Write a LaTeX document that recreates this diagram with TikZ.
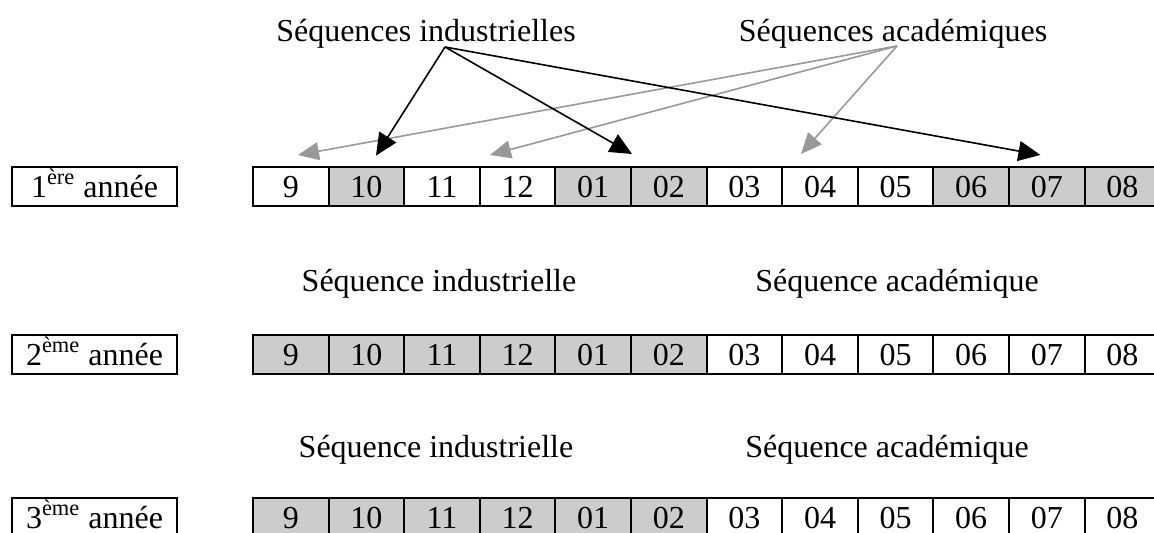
\documentclass[tikz,border=0pt]{standalone}
\usepackage{fontspec}
\setmainfont{Liberation Serif}
\usepackage{xcolor}
\definecolor{cellgray}{rgb}{0.8, 0.8, 0.8}
\definecolor{arrowgray}{rgb}{0.6, 0.6, 0.6}
\usepackage{tikz}
\usetikzlibrary{arrows.meta,positioning}
\tikzset{
  yearbox/.style={rectangle,draw,line width=1pt,minimum width=82.5pt,minimum height=19.5pt,inner sep=0pt,text height=10.8pt,text depth=0pt},
  month/.style={yearbox,minimum width=37.8pt},
  ind/.style={month,fill=cellgray},
  seqtitle/.style={anchor=base},
  indarrow/.style={-{Triangle[length=11pt,width=10pt]},line width=0.8pt,draw=black},
  acaarrow/.style={-{Triangle[length=10.5pt,width=9pt]},line width=0.8pt,draw=arrowgray}
}

\begin{document}
\begin{tikzpicture}[x=0.5pt,y=-0.5pt,node distance=37.8pt,font=\fontsize{16pt}{19pt}\selectfont]
  \useasboundingbox (0,0) rectangle (1154,533);

  % Year labels
  \node[yearbox] (ya) at (94.5,186.5) {1\textsuperscript{ère} année};
  \node[yearbox] (yb) at (94.5,354.5) {2\textsuperscript{ème} année};
  \node[yearbox] (yc) at (94.5,517.5) {3\textsuperscript{ème} année};

  % 1st year months
  \node[month] (a1) at (290.8,186.5) {9};
  \node[ind,right of=a1] (a2) {10};
  \node[month,right of=a2] (a3) {11};
  \node[month,right of=a3] (a4) {12};
  \node[ind,right of=a4] (a5) {01};
  \node[ind,right of=a5] (a6) {02};
  \node[month,right of=a6] (a7) {03};
  \node[month,right of=a7] (a8) {04};
  \node[month,right of=a8] (a9) {05};
  \node[ind,right of=a9] (a10) {06};
  \node[ind,right of=a10] (a11) {07};
  \node[ind,right of=a11] (a12) {08};

  % 2nd year months
  \node[ind] (b1) at (290.8,354.5) {9};
  \node[ind,right of=b1] (b2) {10};
  \node[ind,right of=b2] (b3) {11};
  \node[ind,right of=b3] (b4) {12};
  \node[ind,right of=b4] (b5) {01};
  \node[ind,right of=b5] (b6) {02};
  \node[month,right of=b6] (b7) {03};
  \node[month,right of=b7] (b8) {04};
  \node[month,right of=b8] (b9) {05};
  \node[month,right of=b9] (b10) {06};
  \node[month,right of=b10] (b11) {07};
  \node[month,right of=b11] (b12) {08};

  % 3rd year months
  \node[ind] (c1) at (290.8,517.5) {9};
  \node[ind,right of=c1] (c2) {10};
  \node[ind,right of=c2] (c3) {11};
  \node[ind,right of=c3] (c4) {12};
  \node[ind,right of=c4] (c5) {01};
  \node[ind,right of=c5] (c6) {02};
  \node[month,right of=c6] (c7) {03};
  \node[month,right of=c7] (c8) {04};
  \node[month,right of=c8] (c9) {05};
  \node[month,right of=c9] (c10) {06};
  \node[month,right of=c10] (c11) {07};
  \node[month,right of=c11] (c12) {08};

  % Sequence titles
  \node[seqtitle] (ti1) at (426,42) {Séquences industrielles};
  \node[seqtitle] (ta1) at (893,42) {Séquences académiques};
  \node[seqtitle] (ti2) at (439,292) {Séquence industrielle};
  \node[seqtitle] (ta2) at (897,292) {Séquence académique};
  \node[seqtitle] (ti3) at (436,457) {Séquence industrielle};
  \node[seqtitle] (ta3) at (887,457) {Séquence académique};

  % Arrow sources
  \coordinate (si) at ([xshift=9.5pt,yshift=-2.5pt]ti1.base);
  \coordinate (sa) at ([xshift=2pt,yshift=-2pt]ta1.base);

  % Academic arrows
  \draw[acaarrow] (sa) -- ([xshift=3.6pt,yshift=5.5pt]a1.north);
  \draw[acaarrow] (sa) -- ([xshift=-13.8pt,yshift=5.5pt]a4.north);
  \draw[acaarrow] (sa) -- ([xshift=-9.5pt,yshift=6pt]a8.north);

  % Industrial arrows
  \draw[indarrow] (si) -- ([xshift=4.8pt,yshift=5.2pt]a2.north);
  \draw[indarrow] (si) -- ([yshift=6pt]a5.north east);
  \draw[indarrow] (si) -- ([xshift=-3.2pt,yshift=5.5pt]a11.north);
\end{tikzpicture}
\end{document}
